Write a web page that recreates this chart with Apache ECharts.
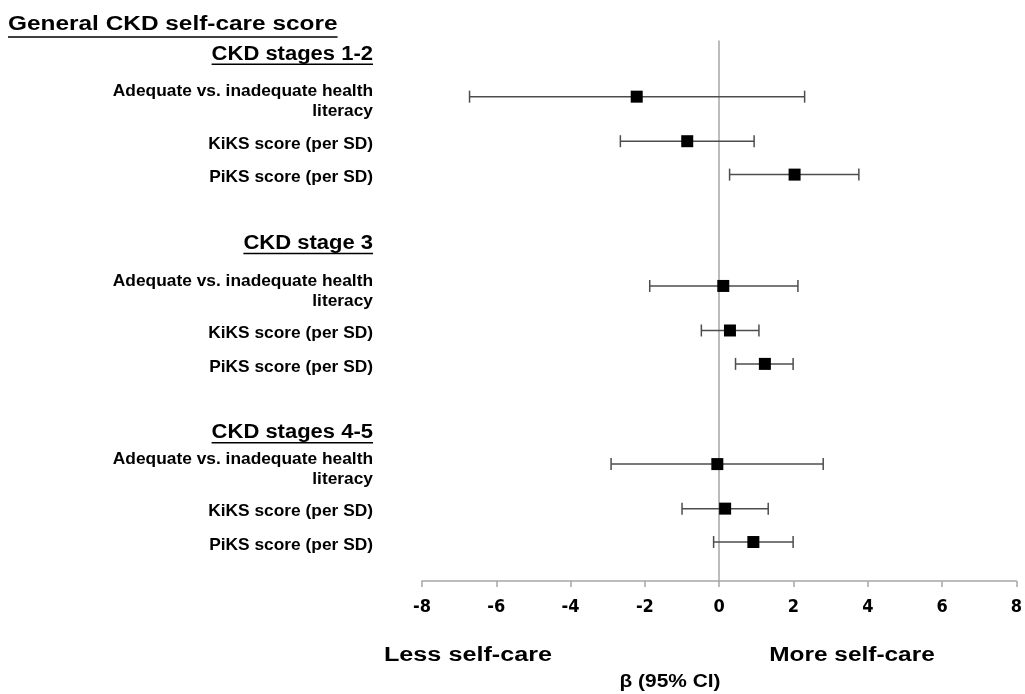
<!DOCTYPE html>
<html>
<head>
<meta charset="utf-8">
<title>General CKD self-care score</title>
<script src="https://cdn.jsdelivr.net/npm/echarts@6/dist/echarts.min.js"></script>
<style>
  html, body { margin: 0; padding: 0; background: #fff; }
  #forestChart { width: 1025px; height: 694px; }
</style>
</head>
<body>
<div id="forestChart"></div>
<script>
// 分组标题及所在行
var groupNames = ['CKD stages 1-2', 'CKD stage 3', 'CKD stages 4-5'];
var groupRow = [0, 17, 34];
// 每行的指标名称
var rowLabels = [
  'Adequate vs. inadequate health\nliteracy', 'KiKS score (per SD)', 'PiKS score (per SD)',
  'Adequate vs. inadequate health\nliteracy', 'KiKS score (per SD)', 'PiKS score (per SD)',
  'Adequate vs. inadequate health\nliteracy', 'KiKS score (per SD)', 'PiKS score (per SD)'
];
var rowPos = [4, 8, 11, 21, 25, 28, 37, 41, 44];
// β 及 95% CI
var beta = [-2.22, -0.86, 2.03, 0.11, 0.29, 1.23, -0.05, 0.16, 0.92];
var ciLow = [-6.72, -2.66, 0.28, -1.87, -0.48, 0.44, -2.91, -1.00, -0.15];
var ciHigh = [2.30, 0.94, 3.76, 2.12, 1.07, 1.99, 2.80, 1.32, 1.99];
var xTicks = [-8, -6, -4, -2, 0, 2, 4, 6, 8];

var LABEL_FONT = 'bold 17px "Liberation Sans", Arial, sans-serif';
var HEAD_FONT = 'bold 20px "Liberation Sans", Arial, sans-serif';
var BOTTOM_FONT = 'bold 20px "Liberation Sans", Arial, sans-serif';

var measureCtx = document.createElement('canvas').getContext('2d');
function textWidth(txt, font) {
  measureCtx.font = font;
  return measureCtx.measureText(txt).width;
}

var myChart = echarts.init(document.getElementById('forestChart'));

var barData = [];
var pointData = [];
var labelData = [];
rowPos.forEach(function (y, i) {
  barData.push([ciLow[i], ciHigh[i], y]);
  pointData.push([beta[i], y]);
  labelData.push([xTicks[0], y, i, 0]);
});
groupRow.forEach(function (y, i) {
  labelData.push([xTicks[0], y, i, 1]);
});

// 误差线：横线 + 两端短竖线
function renderBar(params, api) {
  var a = api.coord([api.value(0), api.value(2)]);
  var b = api.coord([api.value(1), api.value(2)]);
  var cap = 6;
  var st = { stroke: '#4d4d4d', lineWidth: 1.5 };
  return {
    type: 'group',
    children: [
      { type: 'line', shape: { x1: a[0], y1: a[1], x2: b[0], y2: b[1] }, style: st },
      { type: 'line', shape: { x1: a[0], y1: a[1] - cap, x2: a[0], y2: a[1] + cap }, style: st },
      { type: 'line', shape: { x1: b[0], y1: b[1] - cap, x2: b[0], y2: b[1] + cap }, style: st }
    ]
  };
}

// 左侧文字：指标名称和分组标题（带下划线）
function renderLabel(params, api) {
  var p = api.coord([api.value(0), api.value(1)]);
  var idx = api.value(2);
  var isHead = api.value(3) === 1;
  var right = p[0] - 49;
  if (!isHead) {
    var txt = rowLabels[idx];
    var twoLine = txt.indexOf('\n') >= 0;
    return {
      type: 'text',
      x: right,
      y: p[1] + (twoLine ? 5 : 3),
      scaleX: 1.02,
      style: {
        text: txt, font: LABEL_FONT, fill: '#000',
        align: 'right', verticalAlign: 'middle', lineHeight: 20
      }
    };
  }
  var head = groupNames[idx];
  var sx = 1.1;
  var w = textWidth(head, HEAD_FONT) * sx;
  var cy = p[1] + 2;
  return {
    type: 'group',
    children: [
      {
        type: 'text', x: right, y: cy, scaleX: sx,
        style: { text: head, font: HEAD_FONT, fill: '#000', align: 'right', verticalAlign: 'middle' }
      },
      {
        type: 'line',
        shape: { x1: right - w, y1: cy + 10, x2: right, y2: cy + 10 },
        style: { stroke: '#000', lineWidth: 1.5 }
      }
    ]
  };
}

var titleText = 'General CKD self-care score';
var titleFont = 'bold 20px "Liberation Sans", Arial, sans-serif';
var titleScale = 1.22;
var titleW = textWidth(titleText, titleFont) * titleScale;

var option = {
  backgroundColor: '#fff',
  animation: false,
  grid: { left: 422, right: 5, top: 41, bottom: 113 },
  xAxis: {
    type: 'value',
    min: -8,
    max: 8,
    interval: 2,
    axisLine: { onZero: false, lineStyle: { color: '#a6a6a6', width: 1.5 } },
    axisTick: { show: true, length: 6, lineStyle: { color: '#a6a6a6', width: 1.5 } },
    axisLabel: {
      margin: 17,
      color: '#000',
      fontSize: 18,
      fontWeight: 'bold',
      fontFamily: '"Liberation Sans Narrow", "DejaVu Sans Condensed", Arial, sans-serif'
    },
    splitLine: { show: false }
  },
  yAxis: {
    type: 'value',
    inverse: true,
    min: -1,
    max: 47.5,
    axisLine: { show: true, onZero: true, lineStyle: { color: '#a6a6a6', width: 1.5 } },
    axisTick: { show: false },
    axisLabel: { show: false },
    splitLine: { show: false }
  },
  graphic: [
    {
      type: 'text', x: 8, y: 24, scaleX: titleScale,
      style: { text: titleText, font: titleFont, fill: '#000', align: 'left', verticalAlign: 'middle' }
    },
    {
      type: 'line',
      shape: { x1: 8, y1: 37, x2: 8 + titleW, y2: 37 },
      style: { stroke: '#000', lineWidth: 1.5 }
    },
    {
      type: 'text', x: 468, y: 655, scaleX: 1.26,
      style: { text: 'Less self-care', font: BOTTOM_FONT, fill: '#000', align: 'center', verticalAlign: 'middle' }
    },
    {
      type: 'text', x: 852, y: 655, scaleX: 1.22,
      style: { text: 'More self-care', font: BOTTOM_FONT, fill: '#000', align: 'center', verticalAlign: 'middle' }
    },
    {
      type: 'text', x: 670, y: 682, scaleX: 1.16,
      style: { text: 'β (95% CI)', font: 'bold 18px "Liberation Sans", Arial, sans-serif', fill: '#000', align: 'center', verticalAlign: 'middle' }
    }
  ],
  series: [
    {
      type: 'custom',
      renderItem: renderBar,
      data: barData,
      encode: { x: [0, 1], y: 2 },
      clip: false,
      z: 2
    },
    {
      type: 'scatter',
      data: pointData,
      symbol: 'rect',
      symbolSize: 12,
      itemStyle: { color: '#000', opacity: 1 },
      z: 3
    },
    {
      type: 'custom',
      renderItem: renderLabel,
      data: labelData,
      encode: { x: 0, y: 1 },
      clip: false,
      silent: true,
      z: 4
    }
  ]
};
myChart.setOption(option);
</script>
</body>
</html>
